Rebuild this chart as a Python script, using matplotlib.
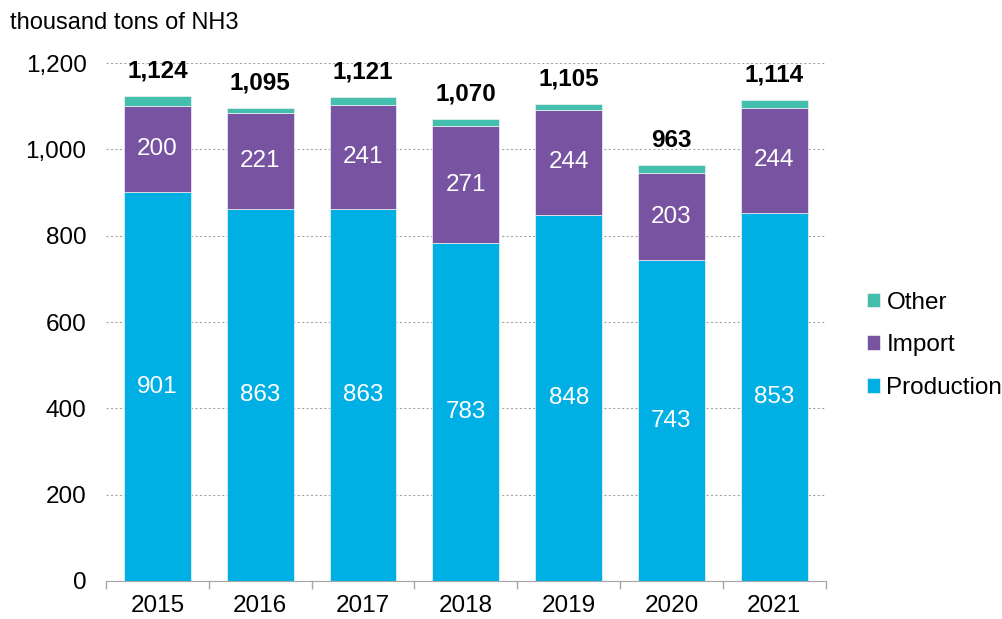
import matplotlib
matplotlib.use("Agg")
import matplotlib.pyplot as plt
import numpy as np

years = ["2015", "2016", "2017", "2018", "2019", "2020", "2021"]
production = [901, 863, 863, 783, 848, 743, 853]
imports = [200, 221, 241, 271, 244, 203, 244]
totals = [1124, 1095, 1121, 1070, 1105, 963, 1114]
other = [t - p - i for t, p, i in zip(totals, production, imports)]

c_prod = "#00B0E4"
c_imp = "#7753A2"
c_oth = "#45BFAD"

plt.rcParams["font.family"] = ["Liberation Sans", "DejaVu Sans"]

fig = plt.figure(figsize=(10.02, 6.19), dpi=100)
ax = fig.add_axes([0.1058, 0.0614, 0.7182, 0.8366])

x = np.arange(len(years))
w = 0.65
ew = dict(edgecolor="#F2F2F2", linewidth=0.5)
b1 = ax.bar(x, production, w, color=c_prod, label="Production", zorder=2, **ew)
b2 = ax.bar(x, imports, w, bottom=production, color=c_imp, label="Import", zorder=2, **ew)
bot3 = [p + i for p, i in zip(production, imports)]
b3 = ax.bar(x, other, w, bottom=bot3, color=c_oth, label="Other", zorder=2, **ew)

fs = 17.5
for xi, p, i, t in zip(x, production, imports, totals):
    ax.text(xi, p / 2, f"{p}", ha="center", va="center", color="white", fontsize=fs)
    ax.text(xi, p + i / 2, f"{i}", ha="center", va="center", color="white", fontsize=fs)
    ax.annotate(f"{t:,}", (xi, t), xytext=(0, 18), textcoords="offset points",
                ha="center", va="center", fontsize=fs, fontweight="bold")

ax.set_xlim(-0.5, len(years) - 0.5)
ax.set_ylim(0, 1200)
ax.set_yticks(range(0, 1201, 200))
ax.set_yticklabels([f"{v:,}" for v in range(0, 1201, 200)], fontsize=fs)
ax.set_xticks(x)
ax.set_xticklabels(years, fontsize=fs)
ax.set_xticks(np.arange(-0.5, len(years), 1), minor=True)
ax.tick_params(axis="x", which="major", length=0, pad=10)
ax.tick_params(axis="x", which="minor", length=6, color="#A6A6A6", width=1)
ax.tick_params(axis="y", length=0, pad=14)

ax.yaxis.grid(True, linestyle=(0, (2, 2)), color="#A6A6A6", linewidth=0.8, zorder=0)
ax.set_axisbelow(True)
for s in ["left", "right", "top"]:
    ax.spines[s].set_visible(False)
ax.spines["bottom"].set_color("#A6A6A6")

fig.text(0.01, 0.963, "thousand tons of NH3", fontsize=17, ha="left", va="center")

ax.legend(handles=[b3, b2, b1], loc="center left", bbox_to_anchor=(1.044, 0.455),
          frameon=False, fontsize=fs, handlelength=0.55, handleheight=0.55,
          handletextpad=0.25, labelspacing=0.85, borderaxespad=0.0)

fig.savefig("out.png", dpi=100)
